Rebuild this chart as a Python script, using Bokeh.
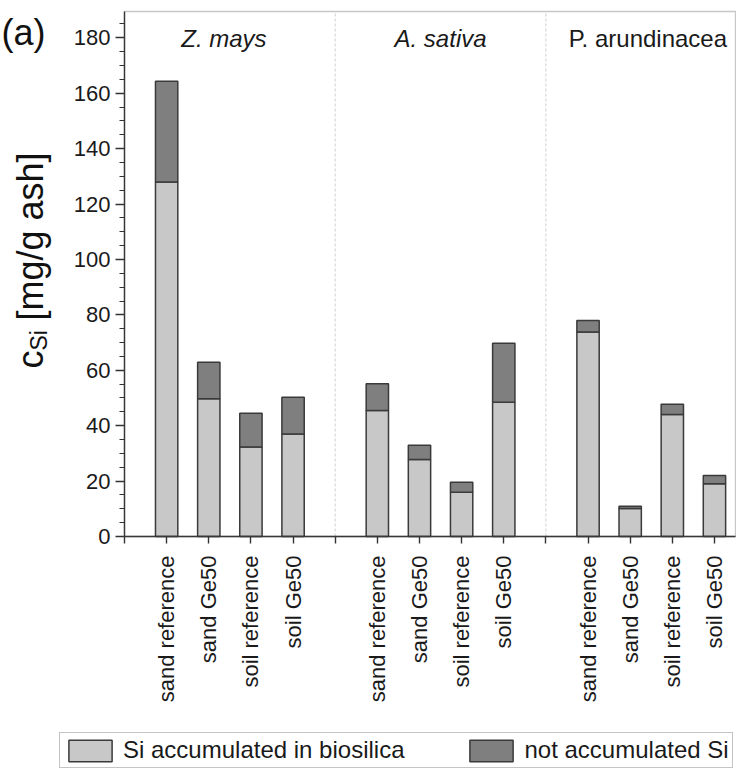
import math
from bokeh.plotting import figure
from bokeh.models import (ColumnDataSource, Range1d, FixedTicker, SingleIntervalTicker,
                          Label, Legend, LegendItem, BoxAnnotation)
from bokeh.embed import file_html
from bokeh.resources import INLINE

# ---- data ----
groups = ["Z. mays", "A. sativa", "P. arundinacea"]
group_italic = [True, True, False]
treatments = ["sand reference", "sand Ge50", "soil reference", "soil Ge50"]
# Si accumulated in biosilica [mg/g ash]
biosilica = [128.0, 49.7, 32.3, 37.0,
             45.5, 27.8, 16.0, 48.5,
             73.8, 10.1, 44.0, 19.0]
# not accumulated Si [mg/g ash]
not_accumulated = [36.3, 13.2, 12.2, 13.3,
                   9.6, 5.1, 3.6, 21.3,
                   4.2, 0.8, 3.7, 3.0]
series_labels = ["Si accumulated in biosilica", "not accumulated Si"]
y_tick_interval = 20
y_max = 189.5

# ---- geometry / style ----
W, H = 736, 769
X0_PX, X_UNIT_PX = 124.0, 42.14      # pixel of x=0, pixels per category slot
Y0_PX, Y_UNIT_PX = 536.0, 2.7704     # pixel of y=0, pixels per unit
FONT = "Liberation Sans"
LIGHT = "#c8c8c8"
DARK = "#7f7f7f"
EDGE = "#3a3a3a"
AX = "#333333"
TXT = "#1a1a1a"

n_t = len(treatments)
slots = len(groups) * (n_t + 1)
x_pos, x_labels = [], []
for g in range(len(groups)):
    for i, t in enumerate(treatments):
        x_pos.append(g * (n_t + 1) + i + 1)
        x_labels.append(t)
x_max = slots - 0.5

source = ColumnDataSource(dict(x=x_pos, bio=biosilica, notacc=not_accumulated))

p = figure(width=W, height=H, output_backend="svg", toolbar_location=None,
           x_range=Range1d(-X0_PX / X_UNIT_PX, (W - X0_PX) / X_UNIT_PX),
           y_range=Range1d(-(H - Y0_PX) / Y_UNIT_PX, Y0_PX / Y_UNIT_PX),
           min_border=0, min_border_left=0, min_border_right=0,
           min_border_top=0, min_border_bottom=0)
p.grid.visible = False
p.outline_line_color = None
p.background_fill_color = "white"
p.border_fill_color = "white"

# separators between groups
sep_x = [s * (n_t + 1) for s in range(1, len(groups))]
p.segment(x0=sep_x, y0=[0] * len(sep_x), x1=sep_x, y1=[y_max] * len(sep_x),
          line_color="#d0d0d0", line_dash="3 2", line_width=1)

rs = p.vbar_stack(["bio", "notacc"], x="x", width=0.53, source=source,
                  fill_color=[LIGHT, DARK], line_color=EDGE, line_width=1.5)

# plot box (top & right border)
p.add_layout(BoxAnnotation(left=0, right=x_max, bottom=0, top=y_max,
                           fill_alpha=0, line_color="#444444", line_width=1.4))

# x axis
xa = p.xaxis[0]
xa.fixed_location = 0
xa.bounds = (0, x_max)
xa.ticker = FixedTicker(ticks=list(range(0, slots)))
overrides = {k: "" for k in range(0, slots)}
for xp, lab in zip(x_pos, x_labels):
    overrides[xp] = lab
xa.major_label_overrides = overrides
xa.major_label_orientation = math.pi / 2
xa.major_tick_out = 7
xa.major_tick_in = 0
xa.minor_tick_out = 0
xa.major_label_standoff = 12
xa.major_label_text_font = FONT
xa.major_label_text_font_size = "22px"
xa.major_label_text_color = TXT
xa.axis_line_color = AX
xa.axis_line_width = 1.4
xa.major_tick_line_color = AX
xa.major_tick_line_width = 1.4

# y axis
ya = p.yaxis[0]
ya.fixed_location = 0
ya.bounds = (0, y_max)
ya.ticker = SingleIntervalTicker(interval=y_tick_interval, num_minor_ticks=4)
ya.major_tick_out = 9
ya.major_tick_in = 0
ya.minor_tick_out = 5
ya.minor_tick_in = 0
ya.major_label_standoff = 5
ya.major_label_text_font = FONT
ya.major_label_text_font_size = "22px"
ya.major_label_text_color = TXT
ya.axis_line_color = AX
ya.axis_line_width = 1.4
ya.major_tick_line_color = AX
ya.major_tick_line_width = 1.4
ya.minor_tick_line_color = AX
ya.minor_tick_line_width = 1.2

# group labels
group_centers = [2.36, 7.5, 12.42]
for name, it, cx in zip(groups, group_italic, group_centers):
    p.add_layout(Label(x=cx, y=179.6, text=name, text_align="center",
                       text_baseline="middle", text_font=FONT,
                       text_font_size="24px", text_color=TXT,
                       text_font_style="italic" if it else "normal"))

# panel label
p.add_layout(Label(x=1, y=H - 32, x_units="screen", y_units="screen", text="(a)",
                   text_font=FONT, text_font_size="36px", text_baseline="middle",
                   text_color="#111111"))

# y-axis title: c_Si [mg/g ash]
ang = math.pi / 2
p.add_layout(Label(x=30, y=H - 368, x_units="screen", y_units="screen", text="c",
                   angle=ang, text_font=FONT, text_font_size="36px",
                   text_baseline="middle", text_align="left", text_color="#111111"))
p.add_layout(Label(x=38, y=H - 350, x_units="screen", y_units="screen", text="Si",
                   angle=ang, text_font=FONT, text_font_size="23px",
                   text_baseline="middle", text_align="left", text_color="#111111"))
p.add_layout(Label(x=30, y=H - 320, x_units="screen", y_units="screen", text="[mg/g ash]",
                   angle=ang, text_font=FONT, text_font_size="36px",
                   text_baseline="middle", text_align="left", text_color="#111111"))

# legend
legend = Legend(items=[LegendItem(label=series_labels[0], renderers=[rs[0]]),
                       LegendItem(label=series_labels[1], renderers=[rs[1]])],
                orientation="horizontal", location=(59, 1),
                glyph_width=54, glyph_height=27, label_standoff=6, spacing=60,
                padding=3, margin=0, border_line_color="#8a8a8a",
                border_line_width=1.5, label_text_font=FONT,
                label_text_font_size="24px", label_height=27,
                label_text_color=TXT, background_fill_alpha=1.0)
p.add_layout(legend, "center")

open("out.html", "w").write(file_html(p, INLINE))
